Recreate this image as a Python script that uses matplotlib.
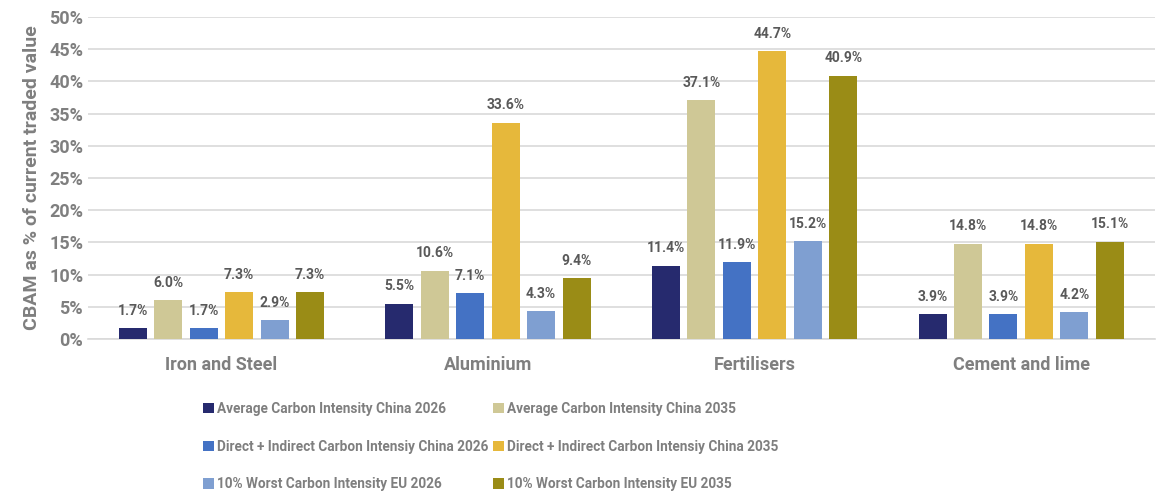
import matplotlib.pyplot as plt
import numpy as np

categories = ["Iron and Steel", "Aluminium", "Fertilisers", "Cement and lime"]
series_names = [
    "Average Carbon Intensity China 2026",
    "Average Carbon Intensity China 2035",
    "Direct + Indirect Carbon Intensiy China 2026",
    "Direct + Indirect Carbon Intensiy China 2035",
    "10% Worst Carbon Intensity EU 2026",
    "10% Worst Carbon Intensity EU 2035",
]
avg_china_2026 = [1.7, 5.5, 11.4, 3.9]
avg_china_2035 = [6.0, 10.6, 37.1, 14.8]
direct_indirect_2026 = [1.7, 7.1, 11.9, 3.9]
direct_indirect_2035 = [7.3, 33.6, 44.7, 14.8]
worst_eu_2026 = [2.9, 4.3, 15.2, 4.2]
worst_eu_2035 = [7.3, 9.4, 40.9, 15.1]

series = [avg_china_2026, avg_china_2035, direct_indirect_2026,
          direct_indirect_2035, worst_eu_2026, worst_eu_2035]
colors = ["#262a6e", "#cfc896", "#4472c4", "#e6b83b", "#7f9fd1", "#9a8c16"]
grey = "#7f7f7f"

plt.rcParams['font.family'] = ['Roboto', 'DejaVu Sans']

fig = plt.figure(figsize=(11.63, 4.93), dpi=100)
ax = fig.add_axes([0.0757, 0.3124, 0.917, 0.653])

x = np.arange(len(categories))
pitch = 0.133
width = 0.105
bars = []
for i, (vals, c, name) in enumerate(zip(series, colors, series_names)):
    pos = x + (i - 2.5) * pitch
    b = ax.bar(pos, vals, width, color=c, label=name, zorder=3)
    bars.append(b)
    for px, v in zip(pos, vals):
        ax.text(px, v + 1.6, f"{v:.1f}%", ha="center", va="bottom",
                fontsize=10, fontweight="bold", color="#595959")

ax.set_ylim(0, 50)
ax.set_xlim(-0.5, 3.5)
ax.set_yticks(np.arange(0, 51, 5))
ax.set_yticklabels([f"{t}%" for t in range(0, 51, 5)])
ax.set_xticks(x)
ax.set_xticklabels(categories)
ax.tick_params(axis="both", length=0, colors=grey, labelsize=13)
ax.tick_params(axis="x", pad=12)
for lab in ax.get_xticklabels() + ax.get_yticklabels():
    lab.set_fontweight("bold")
ax.yaxis.grid(True, color="#d9d9d9", linewidth=1.2, zorder=0)
for s in ["top", "right", "left"]:
    ax.spines[s].set_visible(False)
ax.spines["bottom"].set_color("#d9d9d9")
ax.spines["bottom"].set_linewidth(1.2)
ax.set_ylabel("CBAM as % of current traded value", fontsize=14,
              fontweight="bold", color=grey, labelpad=6)

order = [0, 2, 4, 1, 3, 5]
leg = fig.legend([bars[i] for i in order], [series_names[i] for i in order],
                 ncol=2, loc="upper left", bbox_to_anchor=(0.164, 0.21),
                 frameon=False, handlelength=0.8, handleheight=0.8,
                 handletextpad=0.25, columnspacing=0.3, labelspacing=1.75,
                 prop={"size": 9.8, "weight": "bold"})
for t in leg.get_texts():
    t.set_color(grey)

fig.savefig("out.png", dpi=100)
